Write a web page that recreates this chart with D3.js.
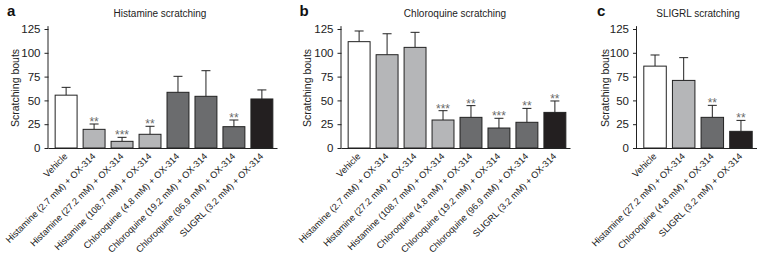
<!DOCTYPE html>
<html><head><meta charset="utf-8">
<script src="https://cdn.jsdelivr.net/npm/d3@7"></script>
<style>body{margin:0;background:#fff}svg{display:block;font-family:"Liberation Sans",Arial,Helvetica,sans-serif}</style>
</head><body><svg id="c" width="762" height="258"></svg>
<script>
const yTicks = [0, 25, 50, 75, 100, 125];

const catsA = ["Vehicle","Histamine (2.7 mM) + OX-314","Histamine (27.2 mM) + OX-314","Histamine (108.7 mM) + OX-314","Chloroquine (4.8 mM) + OX-314","Chloroquine (19.2 mM) + OX-314","Chloroquine (96.9 mM) + OX-314","SLIGRL (3.2 mM) + OX-314"];
const valsA = [55.5, 19.6, 7, 14.4, 58.5, 54.3, 22.4, 51.5];
const errA  = [63.7, 25.2, 11.2, 22.8, 75.3, 81.2, 29.4, 61];
const sigA  = ["", "**", "***", "**", "", "", "**", ""];
const grpA  = ["veh","hist","hist","hist","chl","chl","chl","sli"];

const catsB = ["Vehicle","Histamine (2.7 mM) + OX-314","Histamine (27.2 mM) + OX-314","Histamine (108.7 mM) + OX-314","Chloroquine (4.8 mM) + OX-314","Chloroquine (19.2 mM) + OX-314","Chloroquine (96.9 mM) + OX-314","SLIGRL (3.2 mM) + OX-314"];
const valsB = [111.7, 98, 105.7, 29.4, 32.2, 21, 27, 37.4];
const errB  = [122.9, 120, 121.5, 39.2, 44.5, 31.2, 41.6, 49.4];
const sigB  = ["", "", "", "***", "**", "***", "**", "**"];
const grpB  = ["veh","hist","hist","hist","chl","chl","chl","sli"];

const catsC = ["Vehicle","Histamine (27.2 mM) + OX-314","Chloroquine (4.8 mM) + OX-314","SLIGRL (3.2 mM) + OX-314"];
const valsC = [86, 71, 32.2, 17.5];
const errC  = [97.7, 94.9, 44.8, 29];
const sigC  = ["", "", "**", "**"];
const grpC  = ["veh","hist","chl","sli"];

const fills = {veh:"#ffffff", hist:"#b5b6b8", chl:"#6b6c6e", sli:"#231f20"};

const svg = d3.select("#c");

function panel(o){
  const g = svg.append("g");
  const y = d3.scaleLinear().domain([0,125]).range([148, 29]);
  const x = d3.scaleBand().domain(o.cats).range([o.ax, o.ax + o.w]).paddingInner(0.18).paddingOuter(0.22);
  // y axis
  const ya = g.append("g").attr("transform",`translate(${o.ax},0)`)
    .call(d3.axisLeft(y).tickValues(yTicks).tickSize(4).tickPadding(4));
  ya.select(".domain").attr("d",`M-0.5,${y(0)}V${y(128)}`).attr("stroke","#222");
  ya.selectAll("text").attr("font-size",11.5).attr("fill","#222").attr("font-family","'Liberation Sans',Arial,sans-serif");
  ya.selectAll("line").attr("stroke","#222");
  // x axis line
  g.append("line").attr("x1",o.ax).attr("x2",o.ax+o.w-2).attr("y1",y(0)+0.5).attr("y2",y(0)+0.5).attr("stroke","#222");
  // error bars
  o.cats.forEach((c,i)=>{
    const cx = x(c)+x.bandwidth()/2;
    g.append("line").attr("x1",cx).attr("x2",cx).attr("y1",y(o.vals[i])).attr("y2",y(o.err[i])).attr("stroke","#222");
    g.append("line").attr("x1",cx-4.5).attr("x2",cx+4.5).attr("y1",y(o.err[i])).attr("y2",y(o.err[i])).attr("stroke","#222");
  });
  // bars
  g.selectAll("rect.b").data(o.cats).join("rect")
    .attr("x",c=>x(c)+0.5).attr("width",x.bandwidth()-1)
    .attr("y",(c,i)=>y(o.vals[i])).attr("height",(c,i)=>y(0)-y(o.vals[i]))
    .attr("fill",(c,i)=>fills[o.grp[i]]).attr("stroke","#222").attr("stroke-width",1);
  // stars
  o.cats.forEach((c,i)=>{
    if(!o.sig[i]) return;
    g.append("text").attr("x",x(c)+x.bandwidth()/2).attr("y",y(o.err[i])+2)
      .attr("text-anchor","middle").attr("font-size",12).attr("fill","#6a6a6a")
      .attr("opacity",0.999).text(o.sig[i]);
  });
  // x labels
  o.cats.forEach(c=>{
    const cx = x(c)+x.bandwidth()/2;
    g.append("text").attr("transform",`translate(${cx+2},${157}) rotate(-45)`)
      .attr("text-anchor","end").attr("font-size",9.2).attr("fill","#222").text(c);
  });
  // y title
  g.append("text").attr("transform",`translate(${o.ytx},88) rotate(-90)`)
    .attr("text-anchor","middle").attr("font-size",10.5).attr("fill","#222").text("Scratching bouts");
  // title
  g.append("text").attr("x",o.tx).attr("y",17).attr("text-anchor","middle").attr("font-size",10).attr("fill","#222").text(o.title);
  // panel letter
  g.append("text").attr("x",o.lx).attr("y",15.5).attr("font-size",15).attr("font-weight","bold").attr("fill","#111").text(o.letter);
}

panel({cats:catsA, vals:valsA, err:errA, sig:sigA, grp:grpA, ax:48.5, w:231, ytx:18.5, tx:160, title:"Histamine scratching", lx:7, letter:"a"});
panel({cats:catsB, vals:valsB, err:errB, sig:sigB, grp:grpB, ax:341.5, w:231, ytx:311, tx:455, title:"Chloroquine scratching", lx:299.5, letter:"b"});
panel({cats:catsC, vals:valsC, err:errC, sig:sigC, grp:grpC, ax:637, w:122, ytx:609, tx:698, title:"SLIGRL scratching", lx:597, letter:"c"});
</script></body></html>
